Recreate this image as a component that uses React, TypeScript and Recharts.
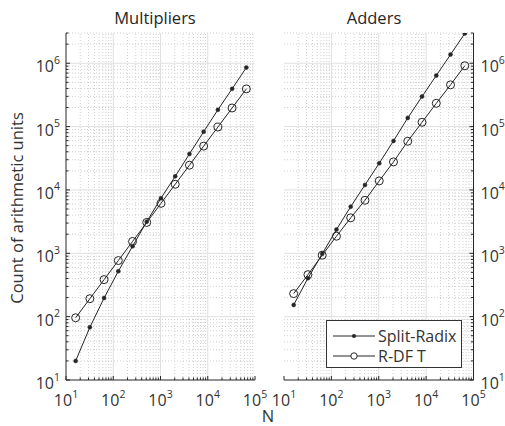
import {
  Legend,
  Line,
  LineChart,
  ReferenceLine,
  XAxis,
  YAxis,
} from 'recharts'

const sizes = [16, 32, 64, 128, 256, 512, 1024, 2048, 4096, 8192, 16384, 32768, 65536]

const multSplitRadix = [20, 68, 197, 521, 1290, 3160, 7400, 16400, 37000, 83000, 184000, 394000, 855000]
const multRdft = [96, 192, 384, 768, 1536, 3072, 6144, 12288, 24576, 49152, 98304, 196608, 393216]

const addSplitRadix = [153, 404, 980, 2370, 5450, 12000, 26400, 59400, 137000, 298000, 640000, 1370000, 2950000]
const addRdft = [231, 460, 933, 1860, 3630, 6870, 13900, 27700, 58700, 117000, 233000, 456000, 912000]

const X_DOMAIN: [number, number] = [10, 100000]
const Y_DOMAIN: [number, number] = [10, 3000000]

const X_MAJOR = [10, 100, 1000, 10000, 100000]
const Y_MAJOR = [10, 100, 1000, 10000, 100000, 1000000]

const FONT = '"Open Sans", sans-serif'
const INK = '#262626'
const TEXT = '#333333'

function logTicks(min: number, max: number): number[] {
  const ticks: number[] = []
  for (let decade = min; decade < max * 10; decade *= 10) {
    for (let m = 1; m <= 9; m++) {
      const v = decade * m
      if (v >= min && v <= max) ticks.push(v)
    }
  }
  return ticks
}

function isMajor(value: number): boolean {
  const e = Math.log10(value)
  return Math.abs(e - Math.round(e)) < 1e-9
}

const xTicks = logTicks(X_DOMAIN[0], X_DOMAIN[1])
const yTicks = logTicks(Y_DOMAIN[0], Y_DOMAIN[1])
const xMinor = xTicks.filter((v) => !isMajor(v))
const yMinor = yTicks.filter((v) => !isMajor(v))

function Power({ x, y, value, anchor }: { x: number; y: number; value: number; anchor: 'start' | 'middle' | 'end' }) {
  return (
    <text x={x} y={y} textAnchor={anchor} fontFamily={FONT} fontSize={16} fill={TEXT}>
      <tspan>10</tspan>
      <tspan dy={-8.5} fontSize={10.5}>
        {Math.round(Math.log10(value))}
      </tspan>
    </text>
  )
}

type Side = 'bottom' | 'top' | 'left' | 'right'

function makeTick(side: Side, labelled: boolean) {
  return (props: any) => {
    const { x, y, payload } = props
    const value = Number(payload.value)
    const major = isMajor(value)
    const len = major ? 4 : 2.5
    let line
    if (side === 'bottom') line = <line x1={x} x2={x} y1={y} y2={y - len} stroke={INK} />
    else if (side === 'top') line = <line x1={x} x2={x} y1={y} y2={y + len} stroke={INK} />
    else if (side === 'left') line = <line x1={x} x2={x + len} y1={y} y2={y} stroke={INK} />
    else line = <line x1={x} x2={x - len} y1={y} y2={y} stroke={INK} />
    let label = null
    if (labelled && major) {
      if (side === 'bottom') label = <Power x={x} y={y + 26} value={value} anchor="middle" />
      else if (side === 'left') label = <Power x={x - 6} y={y + 9} value={value} anchor="end" />
      else if (side === 'right') label = <Power x={x + 7} y={y + 9} value={value} anchor="start" />
    }
    return (
      <g>
        {line}
        {label}
      </g>
    )
  }
}

function LegendBox() {
  return (
    <svg width={136} height={48} style={{ display: 'block' }}>
      <rect x={0.5} y={0.5} width={135} height={47} fill="#ffffff" stroke="#333333" />
      <line x1={7} x2={49} y1={16} y2={16} stroke={INK} />
      <circle cx={28} cy={16} r={2} fill={INK} />
      <text x={52} y={21.5} fontFamily={FONT} fontSize={16} fill={TEXT}>
        Split-Radix
      </text>
      <line x1={7} x2={49} y1={36} y2={36} stroke={INK} />
      <circle cx={28} cy={36} r={3.2} fill="#ffffff" stroke={INK} />
      <text x={52} y={41.5} fontFamily={FONT} fontSize={16} fill={TEXT}>
        R-DF T
      </text>
    </svg>
  )
}

interface PanelProps {
  splitRadix: number[]
  rdft: number[]
  labelSide: 'left' | 'right'
  width: number
  margin: { top: number; right: number; bottom: number; left: number }
  leftWidth: number
  rightWidth: number
  legend?: boolean
}

function Panel({ splitRadix, rdft, labelSide, width, margin, leftWidth, rightWidth, legend }: PanelProps) {
  const rows = sizes.map((n, i) => ({ n, splitRadix: splitRadix[i], rdft: rdft[i] }))
  return (
    <LineChart width={width} height={426} data={rows} margin={margin}>
      {xMinor.map((v) => (
        <ReferenceLine key={`xm${v}`} xAxisId="b" yAxisId="l" x={v} stroke="#d0d0d0" strokeDasharray="1 2" />
      ))}
      {yMinor.map((v) => (
        <ReferenceLine key={`ym${v}`} xAxisId="b" yAxisId="l" y={v} stroke="#d0d0d0" strokeDasharray="1 2" />
      ))}
      {X_MAJOR.slice(1, -1).map((v) => (
        <ReferenceLine key={`xM${v}`} xAxisId="b" yAxisId="l" x={v} stroke="#e0e0e0" />
      ))}
      {Y_MAJOR.slice(1).map((v) => (
        <ReferenceLine key={`yM${v}`} xAxisId="b" yAxisId="l" y={v} stroke="#e0e0e0" />
      ))}
      <XAxis
        xAxisId="b"
        dataKey="n"
        type="number"
        scale="log"
        domain={X_DOMAIN}
        allowDataOverflow
        ticks={xTicks}
        interval={0}
        tickSize={0}
        tickMargin={0}
        tickLine={false}
        tick={makeTick('bottom', true)}
        axisLine={{ stroke: INK }}
        height={46}
      />
      <XAxis
        xAxisId="t"
        orientation="top"
        dataKey="n"
        type="number"
        scale="log"
        domain={X_DOMAIN}
        allowDataOverflow
        ticks={xTicks}
        interval={0}
        tickSize={0}
        tickMargin={0}
        tickLine={false}
        tick={makeTick('top', false)}
        axisLine={{ stroke: INK }}
        height={0}
      />
      <YAxis
        yAxisId="l"
        type="number"
        scale="log"
        domain={Y_DOMAIN}
        allowDataOverflow
        ticks={yTicks}
        interval={0}
        tickSize={0}
        tickMargin={0}
        tickLine={false}
        tick={makeTick('left', labelSide === 'left')}
        axisLine={{ stroke: INK }}
        width={leftWidth}
      />
      <YAxis
        yAxisId="r"
        orientation="right"
        type="number"
        scale="log"
        domain={Y_DOMAIN}
        allowDataOverflow
        ticks={yTicks}
        interval={0}
        tickSize={0}
        tickMargin={0}
        tickLine={false}
        tick={makeTick('right', labelSide === 'right')}
        axisLine={{ stroke: INK }}
        width={rightWidth}
      />
      <Line
        xAxisId="b"
        yAxisId="l"
        type="linear"
        dataKey="splitRadix"
        stroke={INK}
        strokeWidth={1}
        dot={{ r: 2, fill: INK, stroke: INK, strokeWidth: 0.5 }}
        isAnimationActive={false}
      />
      <Line
        xAxisId="b"
        yAxisId="l"
        type="linear"
        dataKey="rdft"
        stroke={INK}
        strokeWidth={1}
        dot={{ r: 4, fill: 'none', stroke: INK, strokeWidth: 1 }}
        isAnimationActive={false}
      />
      {legend && (
        <Legend
          layout="vertical"
          align="center"
          verticalAlign="middle"
          wrapperStyle={{ left: 56, top: 320, width: 136 }}
          content={() => <LegendBox />}
        />
      )}
    </LineChart>
  )
}

export default function App() {
  return (
    <div style={{ position: 'absolute', left: 0, top: 0, width: 505, height: 426, background: '#ffffff' }}>
      <div style={{ position: 'absolute', left: 0, top: 0 }}>
        <Panel
          splitRadix={multSplitRadix}
          rdft={multRdft}
          labelSide="left"
          width={270}
          margin={{ top: 33, right: 15, bottom: 0, left: 16 }}
          leftWidth={50}
          rightWidth={0}
        />
      </div>
      <div style={{ position: 'absolute', left: 270, top: 0 }}>
        <Panel
          splitRadix={addSplitRadix}
          rdft={addRdft}
          labelSide="right"
          width={235}
          margin={{ top: 33, right: 0, bottom: 0, left: 14 }}
          leftWidth={0}
          rightWidth={31.5}
          legend
        />
      </div>
      <svg
        width={505}
        height={426}
        style={{ position: 'absolute', left: 0, top: 0, pointerEvents: 'none' }}
      >
        <text x={155} y={24} textAnchor="middle" fontFamily={FONT} fontSize={16.5} fill={INK}>
          Multipliers
        </text>
        <text x={374} y={24} textAnchor="middle" fontFamily={FONT} fontSize={16.5} fill={INK}>
          Adders
        </text>
        <text x={268} y={422} textAnchor="middle" fontFamily={FONT} fontSize={16.5} fill={TEXT}>
          N
        </text>
        <text
          transform="translate(23 208) rotate(-90)"
          textAnchor="middle"
          fontFamily={FONT}
          fontSize={16.5}
          fill={TEXT}
        >
          Count of arithmetic units
        </text>
      </svg>
    </div>
  )
}
